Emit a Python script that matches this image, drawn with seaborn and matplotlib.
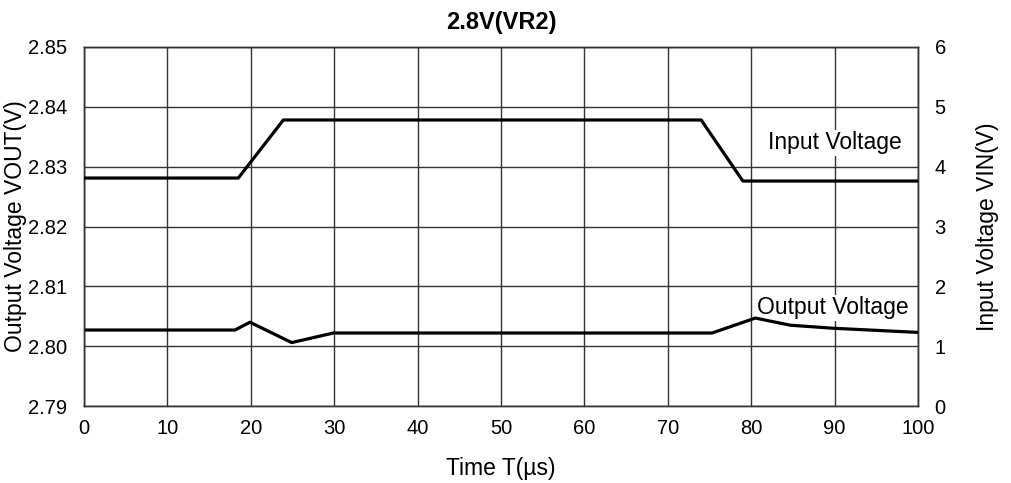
import matplotlib
matplotlib.use('Agg')
import numpy as np
import pandas as pd
import matplotlib.pyplot as plt
import seaborn as sns

# data
vin_time = [0, 18.5, 23.9, 74.0, 79.0, 100]
vin_volt = [3.81, 3.81, 4.78, 4.78, 3.76, 3.76]

vout_time = [0, 18.1, 19.9, 24.9, 29.9, 75.3, 80.5, 84.7, 89.8, 100]
vout_volt = [2.8027, 2.8027, 2.8040, 2.8006, 2.8022, 2.8022, 2.8047, 2.8035, 2.8030, 2.8023]

x_ticks = [0, 10, 20, 30, 40, 50, 60, 70, 80, 90, 100]
left_ticks = [2.79, 2.80, 2.81, 2.82, 2.83, 2.84, 2.85]
right_ticks = [0, 1, 2, 3, 4, 5, 6]

sns.set_style('white')
plt.rcParams['font.family'] = ['Liberation Sans', 'DejaVu Sans']
plt.rcParams['text.color'] = 'black'
plt.rcParams['axes.labelcolor'] = 'black'

fig = plt.figure(figsize=(10.11, 4.83), dpi=100)
ax = fig.add_axes([0.0831, 0.1594, 0.8249, 0.7433])
ax2 = ax.twinx()

df_out = pd.DataFrame({'t': vout_time, 'v': vout_volt})
df_in = pd.DataFrame({'t': vin_time, 'v': vin_volt})

sns.lineplot(data=df_out, x='t', y='v', ax=ax, color='black', linewidth=2.3, zorder=3)
sns.lineplot(data=df_in, x='t', y='v', ax=ax2, color='black', linewidth=2.3, zorder=3)

ax.set_xlim(0, 100)
ax.set_ylim(2.79, 2.85)
ax2.set_ylim(0, 6)
ax.set_xticks(x_ticks)
ax.set_yticks(left_ticks)
ax.set_yticklabels(['%.2f' % v for v in left_ticks])
ax2.set_yticks(right_ticks)

ax.grid(True, color='#333333', linewidth=1.0)
ax.set_axisbelow(True)
for a in (ax, ax2):
    for s in a.spines.values():
        s.set_color('#333333')
        s.set_linewidth(1.0)
    a.tick_params(length=0, labelsize=14.5, colors='black')
ax.tick_params(axis='y', pad=12)
ax.tick_params(axis='x', pad=9)
ax2.tick_params(axis='y', pad=12)

ax.set_xlabel('Time T(µs)', fontsize=16.5, labelpad=14, color='black')
ax.set_ylabel('Output Voltage VOUT(V)', fontsize=16.5, labelpad=1, color='black')
ax2.set_ylabel('Input Voltage VIN(V)', fontsize=16.5, labelpad=22, color='black')
ax.set_title('2.8V(VR2)', fontsize=17, fontweight='bold', pad=13, color='black')

bbox = dict(facecolor='white', edgecolor='none', pad=1)
ax2.text(90, 4.4, 'Input Voltage', fontsize=16.5, ha='center', va='center',
         bbox=bbox, zorder=2, color='black')
ax.text(89.8, 2.8064, 'Output Voltage', fontsize=16.5, ha='center', va='center',
        bbox=bbox, zorder=2, color='black')

fig.savefig('out.png', dpi=100)
